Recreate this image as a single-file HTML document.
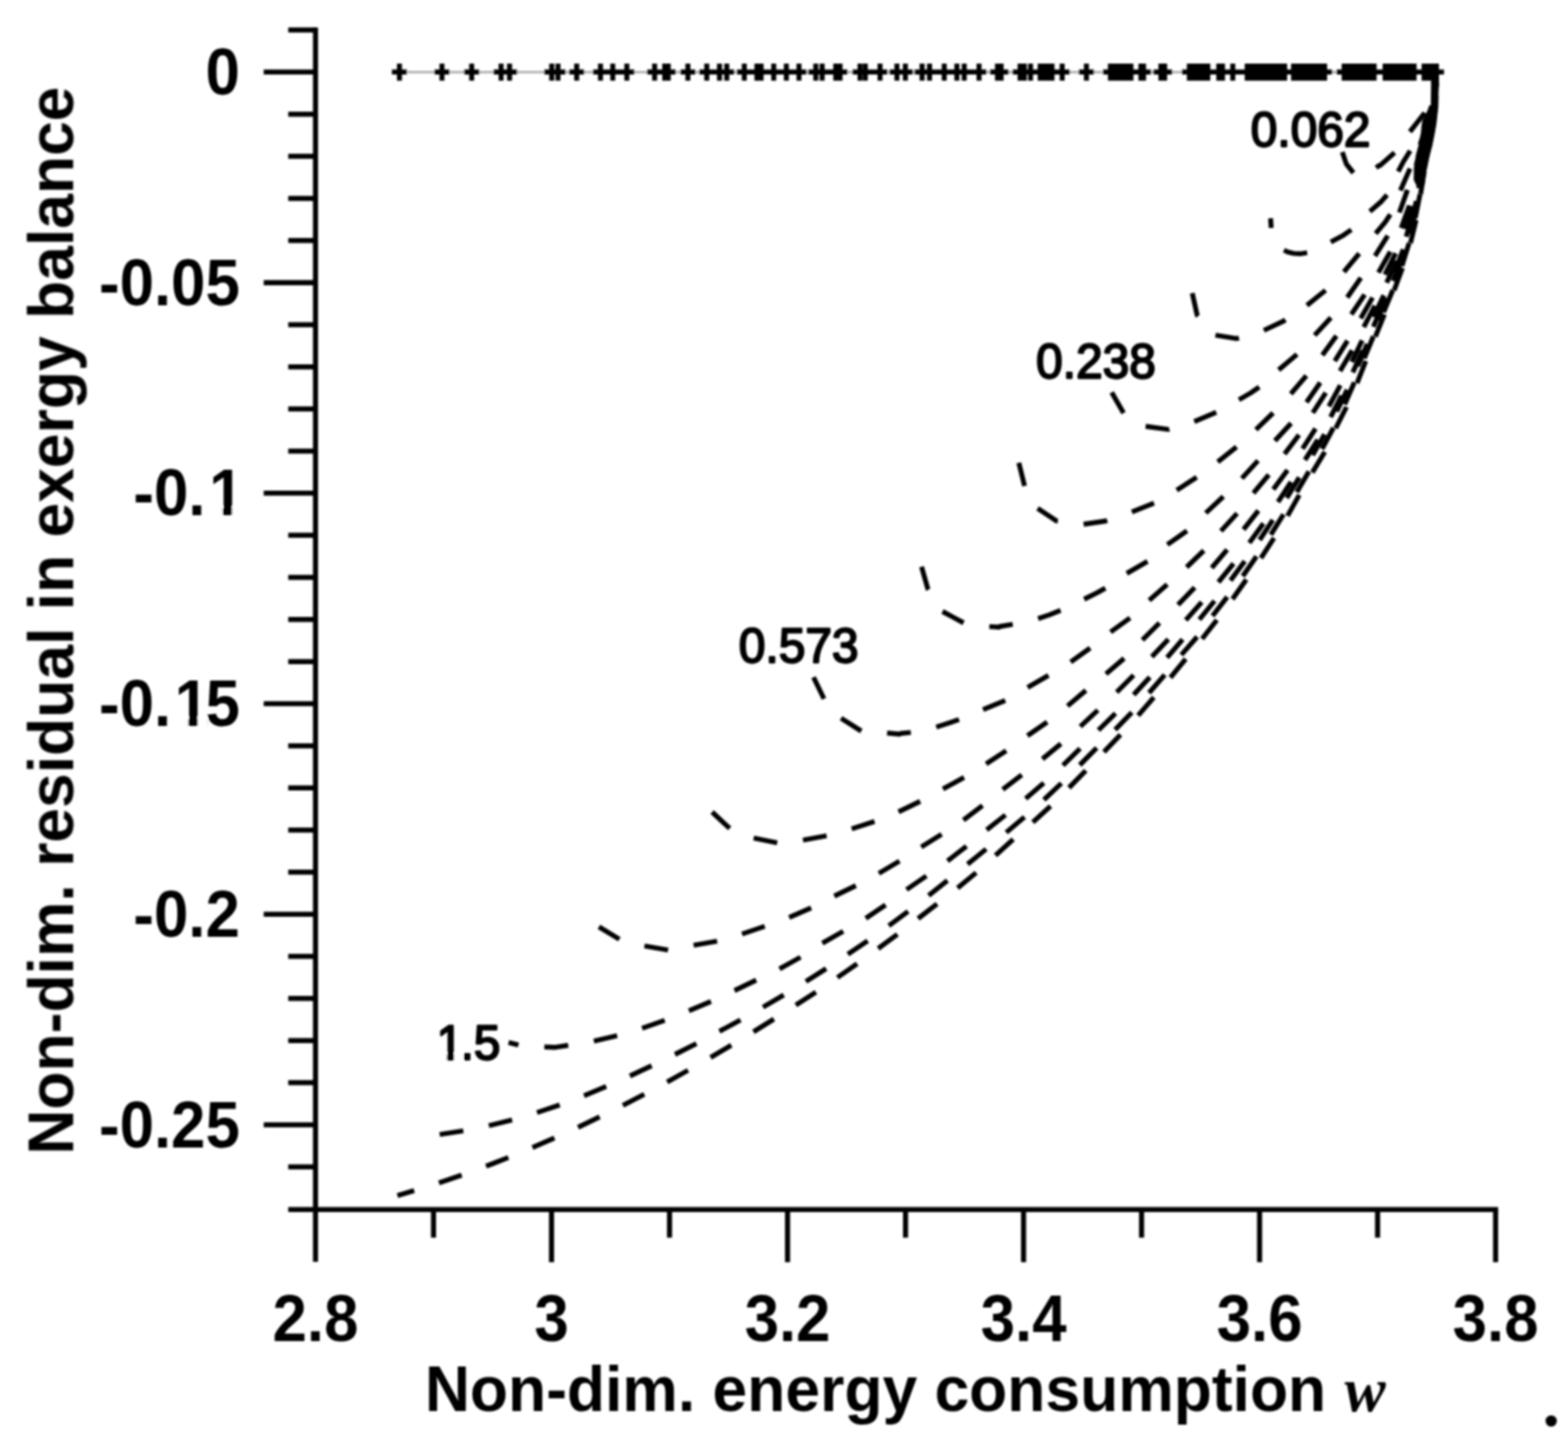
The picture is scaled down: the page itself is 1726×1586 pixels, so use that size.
<!DOCTYPE html>
<html lang="en">
<head>
<meta charset="utf-8">
<title>Non-dim. residual in exergy balance vs. non-dim. energy consumption w</title>
<style>
html,body{margin:0;padding:0;background:#fff;}
body{width:1726px;height:1586px;overflow:hidden;font-family:"Liberation Sans",sans-serif;}
svg{display:block;}
.ax path{stroke:#000;stroke-width:5.6;fill:none;stroke-linecap:butt;}
.tl{font-family:"Liberation Sans",sans-serif;font-weight:bold;font-size:68px;fill:#000;}
.at{font-family:"Liberation Sans",sans-serif;font-weight:bold;font-size:68.7px;fill:#000;}
.it{font-family:"Liberation Serif",serif;font-style:italic;font-weight:bold;font-size:68px;fill:#000;}
.cl{font-family:"Liberation Sans",sans-serif;font-weight:normal;font-size:52.7px;fill:#000;stroke:#000;stroke-width:2.2px;stroke-linejoin:round;}
.cv path{stroke:#000;stroke-width:5.4;fill:none;stroke-linecap:butt;stroke-linejoin:round;}
.bd{fill:#000;stroke:none;}
.gl{stroke:#b4b4b4;stroke-width:2.8;fill:none;}
.mk{stroke:#000;stroke-width:5.5;fill:none;}
</style>
</head>
<body>
<svg width="1726" height="1586" viewBox="0 0 1726 1586">
<defs><filter id="soft" x="0" y="0" width="1726" height="1586" filterUnits="userSpaceOnUse"><feGaussianBlur in="SourceGraphic" stdDeviation="1"/></filter></defs>
<rect width="1726" height="1586" fill="#fff"/>
<g filter="url(#soft)">
<g class="ax">
<path d="M347.3 30.2 V1388.7"/>
<path d="M317.3 1331.2 H1649.1"/>
<path d="M317.3 1284.3 H347.3"/>
<path d="M290.3 1238.0 H347.3"/>
<path d="M317.3 1191.6 H347.3"/>
<path d="M317.3 1145.3 H347.3"/>
<path d="M317.3 1098.9 H347.3"/>
<path d="M317.3 1052.6 H347.3"/>
<path d="M290.3 1006.3 H347.3"/>
<path d="M317.3 959.9 H347.3"/>
<path d="M317.3 913.6 H347.3"/>
<path d="M317.3 867.2 H347.3"/>
<path d="M317.3 820.9 H347.3"/>
<path d="M290.3 774.5 H347.3"/>
<path d="M317.3 728.2 H347.3"/>
<path d="M317.3 681.8 H347.3"/>
<path d="M317.3 635.5 H347.3"/>
<path d="M317.3 589.1 H347.3"/>
<path d="M290.3 542.8 H347.3"/>
<path d="M317.3 496.5 H347.3"/>
<path d="M317.3 450.1 H347.3"/>
<path d="M317.3 403.8 H347.3"/>
<path d="M317.3 357.4 H347.3"/>
<path d="M290.3 311.1 H347.3"/>
<path d="M317.3 264.7 H347.3"/>
<path d="M317.3 218.4 H347.3"/>
<path d="M317.3 172.0 H347.3"/>
<path d="M317.3 125.7 H347.3"/>
<path d="M290.3 79.3 H347.3"/>
<path d="M317.3 33.0 H347.3"/>
<path d="M477.2 1331.2 V1362.2"/>
<path d="M607.1 1331.2 V1389.2"/>
<path d="M737.0 1331.2 V1362.2"/>
<path d="M866.9 1331.2 V1389.2"/>
<path d="M996.8 1331.2 V1362.2"/>
<path d="M1126.7 1331.2 V1389.2"/>
<path d="M1256.6 1331.2 V1362.2"/>
<path d="M1386.5 1331.2 V1389.2"/>
<path d="M1516.4 1331.2 V1362.2"/>
<path d="M1646.3 1331.2 V1389.2"/>
</g>
<g>
<path class="gl" d="M439.7 79.3H1581.4"/>
<path class="mk" d="M431.4 79.3h16.6M439.7 69.9v18.8M478.2 79.3h16.6M486.5 69.9v18.8M510.9 79.3h16.6M519.2 69.9v18.8M543.3 79.3h16.6M551.6 69.9v18.8M552.6 79.3h16.6M560.9 69.9v18.8M599.0 79.3h16.6M607.3 69.9v18.8M605.9 79.3h16.6M614.2 69.9v18.8M626.5 79.3h16.6M634.8 69.9v18.8M652.7 79.3h16.6M661.0 69.9v18.8M666.2 79.3h16.6M674.5 69.9v18.8M681.7 79.3h16.6M690.0 69.9v18.8M712.3 79.3h16.6M720.6 69.9v18.8M723.4 79.3h16.6M731.7 69.9v18.8M727.3 79.3h16.6M735.6 69.9v18.8M748.9 79.3h16.6M757.2 69.9v18.8M769.7 79.3h16.6M778.0 69.9v18.8M783.7 79.3h16.6M792.0 69.9v18.8M791.7 79.3h16.6M800.0 69.9v18.8M811.0 79.3h16.6M819.3 69.9v18.8M824.9 79.3h16.6M833.2 69.9v18.8M829.5 79.3h16.6M837.8 69.9v18.8M843.4 79.3h16.6M851.7 69.9v18.8M857.3 79.3h16.6M865.6 69.9v18.8M871.2 79.3h16.6M879.5 69.9v18.8M889.7 79.3h16.6M898.0 69.9v18.8M896.7 79.3h16.6M905.0 69.9v18.8M911.7 79.3h16.6M920.0 69.9v18.8M916.4 79.3h16.6M924.7 69.9v18.8M938.4 79.3h16.6M946.7 69.9v18.8M944.2 79.3h16.6M952.5 69.9v18.8M960.4 79.3h16.6M968.7 69.9v18.8M979.0 79.3h16.6M987.3 69.9v18.8M988.3 79.3h16.6M996.6 69.9v18.8M1006.7 79.3h16.6M1015.0 69.9v18.8M1014.9 79.3h16.6M1023.2 69.9v18.8M1031.1 79.3h16.6M1039.4 69.9v18.8M1045.0 79.3h16.6M1053.3 69.9v18.8M1053.1 79.3h16.6M1061.4 69.9v18.8M1069.4 79.3h16.6M1077.7 69.9v18.8M1089.7 79.3h16.6M1098.0 69.9v18.8M1093.7 79.3h16.6M1102.0 69.9v18.8M1114.6 79.3h16.6M1122.9 69.9v18.8M1119.2 79.3h16.6M1127.5 69.9v18.8M1126.1 79.3h16.6M1134.4 69.9v18.8M1136.7 79.3h16.6M1145.0 69.9v18.8M1140.0 79.3h16.6M1148.2 69.9v18.8M1143.2 79.3h16.6M1151.5 69.9v18.8M1146.5 79.3h16.6M1154.8 69.9v18.8M1149.7 79.3h16.6M1158.0 69.9v18.8M1160.9 79.3h16.6M1169.2 69.9v18.8M1187.6 79.3h16.6M1195.9 69.9v18.8M1214.0 79.3h16.6M1222.3 69.9v18.8M1217.2 79.3h16.6M1225.5 69.9v18.8M1220.5 79.3h16.6M1228.8 69.9v18.8M1223.7 79.3h16.6M1232.0 69.9v18.8M1226.9 79.3h16.6M1235.2 69.9v18.8M1230.1 79.3h16.6M1238.4 69.9v18.8M1233.4 79.3h16.6M1241.7 69.9v18.8M1236.6 79.3h16.6M1244.9 69.9v18.8M1247.6 79.3h16.6M1255.9 69.9v18.8M1250.5 79.3h16.6M1258.8 69.9v18.8M1269.6 79.3h16.6M1277.9 69.9v18.8M1273.7 79.3h16.6M1282.0 69.9v18.8M1300.9 79.3h16.6M1309.2 69.9v18.8M1304.3 79.3h16.6M1312.6 69.9v18.8M1307.7 79.3h16.6M1316.0 69.9v18.8M1311.0 79.3h16.6M1319.3 69.9v18.8M1314.4 79.3h16.6M1322.7 69.9v18.8M1317.8 79.3h16.6M1326.1 69.9v18.8M1321.2 79.3h16.6M1329.5 69.9v18.8M1333.3 79.3h16.6M1341.6 69.9v18.8M1337.4 79.3h16.6M1345.7 69.9v18.8M1348.7 79.3h16.6M1357.0 69.9v18.8M1364.6 79.3h16.6M1372.9 69.9v18.8M1368.0 79.3h16.6M1376.3 69.9v18.8M1371.5 79.3h16.6M1379.8 69.9v18.8M1374.9 79.3h16.6M1383.2 69.9v18.8M1378.3 79.3h16.6M1386.6 69.9v18.8M1381.8 79.3h16.6M1390.1 69.9v18.8M1385.2 79.3h16.6M1393.5 69.9v18.8M1388.6 79.3h16.6M1396.9 69.9v18.8M1392.1 79.3h16.6M1400.4 69.9v18.8M1395.5 79.3h16.6M1403.8 69.9v18.8M1398.9 79.3h16.6M1407.2 69.9v18.8M1402.4 79.3h16.6M1410.7 69.9v18.8M1405.8 79.3h16.6M1414.1 69.9v18.8M1415.6 79.3h16.6M1423.9 69.9v18.8M1419.0 79.3h16.6M1427.3 69.9v18.8M1422.4 79.3h16.6M1430.7 69.9v18.8M1425.9 79.3h16.6M1434.2 69.9v18.8M1429.3 79.3h16.6M1437.6 69.9v18.8M1432.7 79.3h16.6M1441.0 69.9v18.8M1436.1 79.3h16.6M1444.4 69.9v18.8M1439.5 79.3h16.6M1447.8 69.9v18.8M1443.0 79.3h16.6M1451.3 69.9v18.8M1446.4 79.3h16.6M1454.7 69.9v18.8M1449.8 79.3h16.6M1458.1 69.9v18.8M1471.3 79.3h16.6M1479.6 69.9v18.8M1474.6 79.3h16.6M1482.9 69.9v18.8M1477.9 79.3h16.6M1486.2 69.9v18.8M1481.2 79.3h16.6M1489.5 69.9v18.8M1484.5 79.3h16.6M1492.8 69.9v18.8M1487.8 79.3h16.6M1496.1 69.9v18.8M1491.1 79.3h16.6M1499.4 69.9v18.8M1494.4 79.3h16.6M1502.7 69.9v18.8M1497.7 79.3h16.6M1506.0 69.9v18.8M1501.0 79.3h16.6M1509.3 69.9v18.8M1504.3 79.3h16.6M1512.6 69.9v18.8M1516.4 79.3h16.6M1524.7 69.9v18.8M1519.6 79.3h16.6M1527.9 69.9v18.8M1522.8 79.3h16.6M1531.1 69.9v18.8M1526.0 79.3h16.6M1534.3 69.9v18.8M1529.2 79.3h16.6M1537.5 69.9v18.8M1532.4 79.3h16.6M1540.7 69.9v18.8M1535.5 79.3h16.6M1543.8 69.9v18.8M1538.7 79.3h16.6M1547.0 69.9v18.8M1541.9 79.3h16.6M1550.2 69.9v18.8M1545.1 79.3h16.6M1553.4 69.9v18.8M1548.3 79.3h16.6M1556.6 69.9v18.8M1559.3 79.3h16.6M1567.6 69.9v18.8M1562.7 79.3h16.6M1571.0 69.9v18.8M1566.1 79.3h16.6M1574.4 69.9v18.8M1569.5 79.3h16.6M1577.8 69.9v18.8M1572.9 79.3h16.6M1581.2 69.9v18.8"/>
</g>
<g class="cv">
<path d="M1477.6 167.3L1482.0 180.5 1489.8 190.3M1514.8 184.6L1518.0 182.2 1519.0 182.2 1535.1 168.0M1552.0 145.0L1568.3 124.2M1579.7 98.4L1581.0 79.3"/>
<path d="M1398.6 240.3L1399.3 250.9M1413.3 275.4L1417.6 277.4 1424.0 278.9 1431.0 279.3 1438.9 278.2M1464.9 266.4L1479.0 258.8 1487.5 252.9M1507.9 232.8L1520.7 221.6 1526.8 214.5M1539.1 188.8L1544.1 179.2 1552.3 165.9M1566.7 141.2L1571.7 129.3 1575.9 116.5M1580.7 88.4L1581.0 79.3"/>
<path d="M1312.4 322.6L1317.8 346.8 1318.8 348.0M1337.9 368.8L1361.0 372.7 1363.8 371.9M1391.2 363.6L1412.7 353.5 1414.8 351.9M1438.6 336.1L1459.1 319.5M1479.3 299.3L1496.2 279.0M1514.3 256.9L1524.8 244.5 1530.4 236.0M1541.5 209.7L1552.1 185.5M1563.2 159.1L1571.9 134.2M1578.5 106.4L1580.3 93.3 1581.0 80.2"/>
<path d="M1223.7 431.8L1236.8 454.7M1261.1 469.3L1286.1 472.6 1287.2 472.3M1314.6 464.0L1338.8 453.7M1363.8 440.0L1376.7 432.5 1386.1 426.0M1407.5 407.1L1427.7 390.0M1447.1 369.0L1465.0 349.7M1483.0 327.4L1498.0 305.7M1513.6 281.7L1527.6 259.4M1540.4 233.8L1549.3 209.0M1558.7 182.0L1567.6 157.1M1576.1 129.8L1578.3 117.2 1579.7 103.7"/>
<path d="M1121.5 509.3L1127.8 534.9M1142.2 559.6L1162.8 573.2 1164.5 573.4M1192.8 577.0L1216.8 573.5 1218.8 572.8M1245.9 563.5L1270.3 553.7M1295.3 539.6L1317.3 525.2M1340.5 508.4L1361.1 491.8M1382.5 472.9L1401.4 454.5M1420.9 433.6L1438.0 413.5M1455.6 390.9L1471.1 369.6M1487.5 346.1L1502.2 324.2M1517.4 300.0L1530.4 277.0M1542.4 251.0L1551.4 226.2M1559.6 198.8L1566.3 173.3M1573.6 145.6L1579.4 119.9M1580.7 91.4L1581.0 79.3"/>
<path d="M1014.4 623.8L1021.3 647.9 1022.0 649.0M1037.5 673.0L1060.7 685.5M1089.0 689.6L1100.0 690.3 1100.7 689.5 1114.8 687.1M1142.7 680.9L1155.0 676.8 1167.5 671.7M1193.4 659.5L1207.7 652.4 1216.7 647.3M1240.3 631.1L1263.1 617.8M1285.0 599.4L1306.6 584.3M1327.3 564.6L1346.6 546.5M1367.0 526.5L1384.8 507.0M1403.4 485.2L1421.2 465.8M1438.2 442.8L1453.3 421.1M1469.3 397.4L1483.3 375.0M1497.8 350.4L1510.9 327.5M1524.5 302.3L1536.3 278.7M1547.2 252.3L1554.7 227.0M1561.4 199.2L1567.7 173.5M1575.1 145.9L1578.0 132.2 1579.6 119.9M1580.7 91.4L1581.0 79.3"/>
<path d="M895.5 745.3L907.0 769.1M925.8 790.5L948.1 804.6M976.5 806.8L990.0 808.0 991.3 807.3 1002.6 806.1M1030.6 800.3L1055.7 792.0M1082.1 781.0L1106.5 770.9M1131.2 756.6L1154.1 743.4M1178.6 728.6L1200.0 713.2M1222.5 695.6L1243.9 680.1M1265.0 660.8L1284.8 643.3M1306.2 624.3L1325.1 606.0M1344.0 584.5L1361.8 565.0M1379.7 542.7L1396.7 522.5M1414.0 499.7L1429.9 478.7M1445.1 454.4L1459.4 432.2M1475.1 408.3L1488.4 385.6M1501.2 360.0L1513.4 336.5M1526.4 311.1L1537.5 287.2M1547.9 260.5L1555.3 235.2M1561.5 207.3L1567.0 181.4M1573.9 153.7L1577.0 140.1 1579.0 127.8M1580.7 99.3L1581.0 79.3"/>
<path d="M783.9 893.7L803.2 911.8M829.6 922.4L855.5 927.6M883.9 924.6L909.9 919.8M937.5 912.3L962.6 904.1M989.1 893.5L1012.9 882.0M1038.0 868.4L1061.2 855.7M1085.5 840.7L1107.6 826.2M1131.0 809.8L1152.7 794.7M1175.1 777.0L1195.3 759.9M1217.4 741.8L1237.4 724.6M1257.5 704.3L1276.3 685.7M1296.7 665.6L1315.1 646.7M1333.8 625.1L1350.8 604.9M1368.8 582.7L1385.2 562.0M1401.6 538.6L1417.3 517.3M1433.8 493.9L1448.1 471.8M1462.8 447.2L1475.4 424.0M1488.1 398.4L1499.4 374.6M1511.8 348.8L1523.3 325.0M1535.2 299.0L1544.7 274.4M1552.9 247.0L1559.0 221.3M1565.2 193.4L1570.7 167.6M1576.6 139.6L1579.1 125.3 1580.3 113.5M1580.9 84.9L1581.0 79.3"/>
<path d="M659.3 1020.1L681.8 1033.8M709.4 1041.1L735.4 1045.6M763.5 1040.4L789.4 1035.8M816.8 1028.0L841.8 1019.5M868.7 1009.7L892.9 999.2M918.4 986.3L942.1 974.7M967.4 961.3L990.1 947.8M1014.1 932.2L1036.5 918.3M1060.5 902.7L1081.5 886.7M1103.8 868.8L1124.7 852.8M1147.5 835.4L1167.8 818.6M1189.2 799.6L1208.5 781.6M1229.2 761.8L1247.9 743.2M1267.9 722.8L1286.1 703.6M1305.3 682.5L1322.8 662.7M1341.2 640.8L1357.8 620.2M1375.2 597.5L1390.7 576.2M1406.8 552.5L1421.1 530.4M1436.5 506.3L1450.6 484.0M1464.7 459.1L1476.7 435.6M1489.1 409.8L1500.0 385.8M1511.7 359.6L1522.2 335.4M1533.5 309.2L1543.6 284.7M1552.3 257.5L1558.1 231.8M1563.9 203.8L1569.2 177.9M1574.7 149.8L1579.1 123.8M1581.5 95.3L1581.0 79.3"/>
<path d="M559.8 1147.3L570.7 1150.2M599.2 1152.2L611.5 1152.7 625.5 1150.5M653.7 1145.9L679.3 1139.8M706.8 1131.7L731.7 1123.0M758.3 1112.6L782.6 1102.2M808.5 1090.2L832.4 1078.8M858.1 1066.3L881.2 1053.5M905.2 1038.1L928.2 1025.0M953.0 1010.8L974.8 995.9M997.9 979.1L1019.7 964.1M1043.0 947.6L1063.9 931.4M1086.1 913.4L1106.8 897.0M1129.0 879.0L1149.0 861.8M1170.1 842.4L1188.9 823.9M1209.1 803.7L1227.9 785.2M1247.9 764.7L1265.7 745.3M1284.7 723.8L1301.8 703.8M1320.2 681.9L1336.9 661.4M1354.5 638.9L1370.2 617.7M1386.6 594.2L1401.1 572.2M1416.4 548.0L1430.2 525.5M1444.9 501.0L1458.0 478.0M1471.4 452.8L1482.9 429.0M1494.6 402.9L1505.0 378.6M1516.1 352.3L1526.4 328.0M1537.1 301.5L1546.1 276.6M1554.4 249.3L1560.4 223.6M1565.8 195.5L1570.3 169.5M1575.6 141.4L1580.3 115.4M1581.3 86.8L1581.0 79.3"/>
<path d="M484.0 1248.7L510.0 1244.6M538.1 1238.9L563.7 1232.6M591.1 1224.5L616.1 1216.1M642.9 1205.9L667.3 1195.8M693.4 1184.2L717.3 1173.0M743.0 1160.5L766.6 1148.6M791.9 1135.2L815.1 1122.6M839.9 1108.5L862.7 1095.1M887.1 1080.2L909.4 1066.1M933.3 1050.3L955.1 1035.4M978.4 1018.8L999.6 1003.1M1022.2 985.6L1042.9 969.2M1065.1 951.2L1085.5 934.5M1107.6 916.3L1127.7 899.2M1149.1 880.2L1168.3 862.1M1188.6 842.0L1207.2 823.2M1227.5 803.1L1245.9 784.1M1264.8 762.6L1282.1 742.8M1300.4 720.7L1317.8 700.9M1334.7 677.8L1350.9 657.0M1368.0 634.1L1383.1 612.4M1398.9 588.5L1412.8 566.1M1427.5 541.6L1440.8 518.8M1455.2 494.1L1467.8 470.9M1480.2 445.1L1490.8 420.9M1501.7 394.5L1511.8 370.1M1523.0 343.8L1533.1 319.4M1543.2 292.6L1551.1 267.5M1557.9 239.7L1563.1 213.8M1568.1 185.6L1573.1 159.7M1578.5 131.6L1580.3 117.4 1580.8 105.4"/>
<path d="M437.5 1315.8L455.9 1310.4M483.2 1301.9L508.2 1293.4M535.0 1283.6L559.6 1274.0M586.1 1263.1L610.3 1252.6M636.3 1240.7L660.1 1229.3M685.7 1216.6L709.2 1204.4M734.4 1190.9L757.4 1178.0M782.2 1163.8L805.0 1150.4M829.4 1135.6L851.9 1121.6M876.0 1106.3L898.1 1091.9M921.8 1075.9L943.5 1060.8M966.7 1044.0L987.8 1028.3M1010.6 1011.0L1031.5 994.9M1054.1 977.3L1074.5 960.5M1095.8 941.5L1115.3 923.7M1136.9 904.9L1156.4 887.2M1176.7 867.0L1195.2 848.1M1215.2 827.7L1233.4 808.6M1252.8 787.6L1270.1 767.6M1288.4 745.7L1305.2 725.3M1323.2 703.1L1339.5 682.3M1356.7 659.4L1371.9 637.9M1388.0 614.2L1402.4 592.1M1417.3 567.7L1430.2 544.7M1444.6 520.0L1458.3 497.4M1470.3 471.4L1482.2 447.9M1493.8 421.7L1503.4 397.2M1514.0 370.6L1523.9 346.1M1534.6 319.6L1543.8 294.8M1552.6 267.6L1558.8 242.0M1563.7 213.8L1567.9 187.7M1573.6 159.7L1578.8 133.9M1580.6 105.3L1581.0 79.3"/>
<polygon class="bd" points="1581 76 1583.2 86 1583.2 118 1581.6 132.6 1579.4 146.6 1576.6 160.6 1573 174 1570.6 184 1568.8 198 1568 204 1559 204 1556.2 198 1556.4 184 1558.7 170 1561.3 160.6 1564 146.6 1565.5 133 1570 124 1575 116 1575.3 88"/>
</g>
<g class="tx">
<text transform="translate(264.0 103.9) scale(1.0 1.05)" text-anchor="end" class="tl">0</text>
<text transform="translate(264.0 335.7) scale(1.0 1.05)" text-anchor="end" class="tl">-0.05</text>
<text transform="translate(268.0 567.4) scale(1.0 1.05)" text-anchor="end" dx="0 0 0 4" class="tl">-0.1</text>
<text transform="translate(264.0 799.1) scale(1.0 1.05)" text-anchor="end" dx="0 0 0 4 -4" class="tl">-0.15</text>
<text transform="translate(264.0 1030.9) scale(1.0 1.05)" text-anchor="end" class="tl">-0.2</text>
<text transform="translate(264.0 1262.6) scale(1.0 1.05)" text-anchor="end" class="tl">-0.25</text>
<text transform="translate(347.3 1476.0) scale(1.0 1.05)" text-anchor="middle" class="tl">2.8</text>
<text transform="translate(607.1 1476.0) scale(1.0 1.05)" text-anchor="middle" class="tl">3</text>
<text transform="translate(866.9 1476.0) scale(1.0 1.05)" text-anchor="middle" class="tl">3.2</text>
<text transform="translate(1126.7 1476.0) scale(1.0 1.05)" text-anchor="middle" class="tl">3.4</text>
<text transform="translate(1386.5 1476.0) scale(1.0 1.05)" text-anchor="middle" class="tl">3.6</text>
<text transform="translate(1646.3 1476.0) scale(1.0 1.05)" text-anchor="middle" class="tl">3.8</text>
<text transform="translate(467.7 1553.2) scale(1.0 1.025)" class="at">Non-dim. energy consumption</text>
<text transform="translate(1479.9 1553.2) scale(1.0 1.025)" class="it">w</text>
<text transform="translate(80.4 1270.8) rotate(-90) scale(1.0 1.03)" class="at">Non-dim. residual in exergy balance</text>
<text transform="translate(1376.8 160.9) scale(1.0 1.035)" class="cl">0.062</text>
<text transform="translate(1140.5 415.6) scale(1.0 1.035)" class="cl">0.238</text>
<text transform="translate(813.2 729.2) scale(1.0 1.035)" class="cl">0.573</text>
<text transform="translate(477.6 1165.9) scale(1.0 1.035)" dx="3 -3 0" class="cl">1.5</text>
<rect x="232.1" y="557.6" width="13.0" height="11.2" fill="#fff"/>
<rect x="255.4" y="557.6" width="13.5" height="11.2" fill="#fff"/>
<rect x="194.3" y="789.3" width="13.0" height="11.2" fill="#fff"/>
<rect x="217.6" y="789.3" width="10.5" height="11.2" fill="#fff"/>
<rect x="480.8" y="1159.2" width="11.0" height="9.3" fill="#fff"/>
<rect x="499.9" y="1159.2" width="9.4" height="9.3" fill="#fff"/>
</g>
<circle cx="1707.5" cy="1564" r="6.2" fill="#000"/>
</g>
</svg>
</body>
</html>
